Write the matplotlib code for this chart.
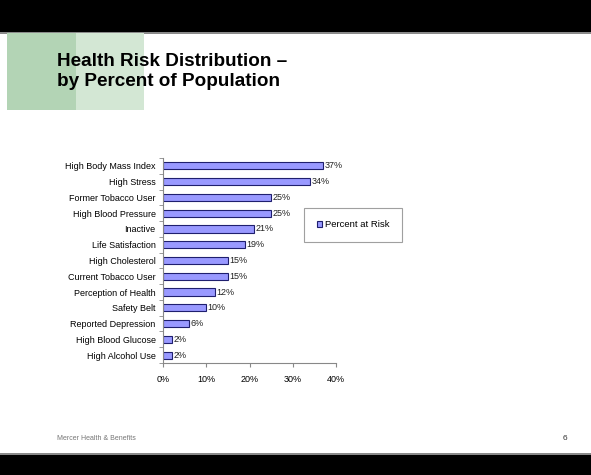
import matplotlib
matplotlib.use("Agg")
import matplotlib.pyplot as plt
import matplotlib.patches as patches
import numpy as np

plt.rcParams['font.family'] = ['Liberation Sans', 'DejaVu Sans']

categories = ["High Body Mass Index", "High Stress", "Former Tobacco User",
              "High Blood Pressure", "Inactive", "Life Satisfaction",
              "High Cholesterol", "Current Tobacco User", "Perception of Health",
              "Safety Belt", "Reported Depression", "High Blood Glucose",
              "High Alcohol Use"]
values = [37, 34, 25, 25, 21, 19, 15, 15, 12, 10, 6, 2, 2]
xticks = [0, 10, 20, 30, 40]
xtick_labels = ["0%", "10%", "20%", "30%", "40%"]
series_name = "Percent at Risk"

W, H = 591, 475
fig = plt.figure(figsize=(W / 100, H / 100), dpi=100)

# slide decoration: black bands, green blocks, thin gray rules
def rect(x0, y0, w, h, color, z=0):
    fig.patches.append(patches.Rectangle((x0 / W, 1 - (y0 + h) / H), w / W, h / H,
                                         transform=fig.transFigure, color=color,
                                         zorder=z, linewidth=0))

rect(0, 0, W, 32, "black")
rect(0, 32, W, 1.5, "#8a8a8a")
rect(7, 33.5, 69, 76, "#b3d4b5")
rect(76, 33.5, 68, 76, "#d3e7d4")
rect(0, 453, W, 1.5, "#8a8a8a")
rect(0, 454.5, W, 21, "black")

fig.text(57 / W, 1 - 62 / H, "Health Risk Distribution \u2013", fontsize=13.6,
         fontweight="bold", va="center", ha="left")
fig.text(57 / W, 1 - 82 / H, "by Percent of Population", fontsize=13.6,
         fontweight="bold", va="center", ha="left")
fig.text(57 / W, 1 - 438 / H, "Mercer Health & Benefits", fontsize=5,
         color="#777777", va="center", ha="left")
fig.text(565 / W, 1 - 438 / H, "6", fontsize=6, color="#333333",
         va="center", ha="center")

# chart
ax = fig.add_axes([163.3 / W, 1 - 363 / H, (336 - 163.3) / W, (363 - 158) / H])
y = np.arange(len(categories))
bars = ax.barh(y, values, height=0.45, color="#9999ff", edgecolor="#1f1f6e",
               linewidth=0.8, label=series_name)
for yi, v in zip(y, values):
    ax.text(v + 0.3, yi, f"{v}%", va="center", ha="left", fontsize=6.5,
            color="#222222")

ax.set_ylim(len(categories) - 0.5, -0.5)
ax.set_xlim(0, 40)
ax.set_yticks(y)
ax.set_yticklabels(categories, fontsize=6.5)
ax.set_yticks(np.arange(-0.5, len(categories), 1), minor=True)
ax.tick_params(axis="y", which="major", length=0, pad=5.5)
ax.tick_params(axis="y", which="minor", length=3, color="#888888", direction="out")
ax.set_xticks(xticks)
ax.set_xticklabels(xtick_labels, fontsize=6.5)
ax.tick_params(axis="x", length=3, color="#888888", pad=5.5)
for s in ["top", "right"]:
    ax.spines[s].set_visible(False)
for s in ["left", "bottom"]:
    ax.spines[s].set_color("#888888")
    ax.spines[s].set_linewidth(0.8)

leg = fig.legend(handles=[bars], labels=[series_name], loc="center",
                 bbox_to_anchor=(353 / W, 1 - 225 / H), fontsize=6.8,
                 frameon=True, fancybox=False, edgecolor="#888888",
                 handlelength=0.6, handleheight=0.6, handletextpad=0.3,
                 borderpad=1.3, borderaxespad=0)
leg.get_frame().set_linewidth(0.8)

fig.savefig("out.png", dpi=100)
